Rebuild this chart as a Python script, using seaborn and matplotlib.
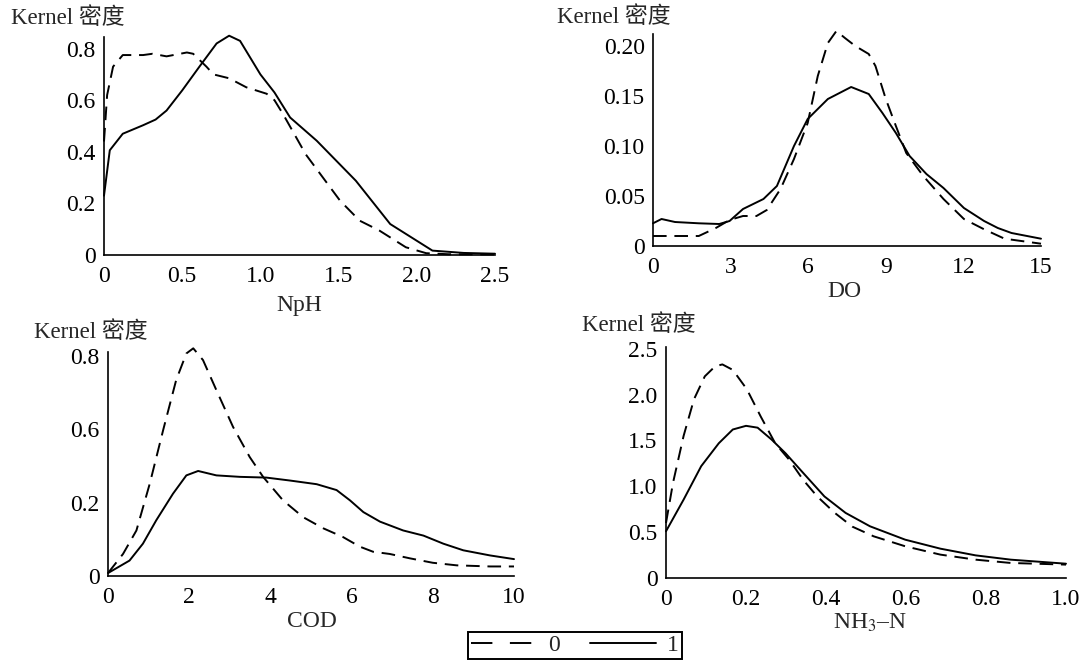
import numpy as np
import pandas as pd
import matplotlib
matplotlib.use("Agg")
import matplotlib.pyplot as plt
from matplotlib.lines import Line2D
import seaborn as sns

# ---------------- data ----------------
# Panel 1: NpH
nph_x0 = [0.0, 0.02, 0.058, 0.12, 0.25, 0.31, 0.40, 0.53, 0.57, 0.655, 0.70, 0.80, 0.91, 1.04, 1.09,
          1.145, 1.29, 1.51, 1.635, 1.76, 1.93, 2.06, 2.2, 2.5]
nph_y0 = [0.44, 0.62, 0.73, 0.775, 0.775, 0.78, 0.77, 0.785, 0.78, 0.73, 0.70, 0.685, 0.65, 0.625, 0.60,
          0.546, 0.39, 0.21, 0.133, 0.095, 0.03, 0.007, 0.003, 0.002]
nph_x1 = [0.0, 0.037, 0.12, 0.25, 0.33, 0.40, 0.50, 0.61, 0.72, 0.80, 0.87, 1.0, 1.09, 1.19, 1.36,
          1.61, 1.83, 2.10, 2.3, 2.5]
nph_y1 = [0.23, 0.406, 0.47, 0.503, 0.525, 0.56, 0.638, 0.73, 0.82, 0.85, 0.83, 0.70, 0.63, 0.533, 0.443,
          0.288, 0.12, 0.017, 0.008, 0.005]

# Panel 2: DO
do_x0 = [0, 1.77, 2.43, 2.96, 3.48, 4.0, 4.4, 4.93, 5.45, 5.98, 6.37, 6.76, 7.09, 7.42, 7.82, 8.34,
         8.6, 9.0, 9.39, 9.79, 10.45, 11.23, 12.02, 12.8, 13.59, 15]
do_y0 = [0.01, 0.01, 0.018, 0.026, 0.03, 0.03, 0.036, 0.057, 0.087, 0.123, 0.17, 0.203, 0.215, 0.208,
         0.2, 0.192, 0.18, 0.147, 0.12, 0.093, 0.07, 0.047, 0.027, 0.0167, 0.0073, 0.0023]
do_x1 = [0, 0.33, 0.85, 1.77, 2.56, 2.96, 3.48, 4.27, 4.79, 5.45, 5.98, 6.76, 7.66, 8.34, 8.87, 9.39,
         9.92, 10.57, 11.23, 12.02, 12.8, 13.33, 13.86, 15]
do_y1 = [0.0227, 0.027, 0.024, 0.0227, 0.022, 0.025, 0.037, 0.047, 0.06, 0.10, 0.127, 0.147, 0.159,
         0.152, 0.133, 0.113, 0.09, 0.072, 0.058, 0.038, 0.025, 0.018, 0.013, 0.0073]

# Panel 3: COD
cod_x0 = [0, 0.37, 0.70, 1.03, 1.36, 1.68, 1.93, 2.1, 2.34, 2.67, 3.08, 3.49, 3.82, 4.31, 4.81, 5.30,
          5.79, 6.2, 6.53, 6.94, 7.44, 8.0, 8.59, 9.41, 10]
cod_y0 = [0.004, 0.030, 0.062, 0.126, 0.199, 0.267, 0.303, 0.31, 0.294, 0.253, 0.203, 0.162, 0.135,
          0.103, 0.080, 0.065, 0.053, 0.04, 0.033, 0.030, 0.024, 0.018, 0.0145, 0.013, 0.013]
cod_x1 = [0, 0.53, 0.86, 1.19, 1.6, 1.93, 2.22, 2.67, 3.25, 3.90, 4.48, 5.14, 5.63, 5.96, 6.29, 6.70,
          7.27, 7.77, 8.26, 8.75, 9.41, 10]
cod_y1 = [0.004, 0.021, 0.044, 0.076, 0.112, 0.137, 0.143, 0.137, 0.135, 0.134, 0.130, 0.125, 0.117,
          0.103, 0.087, 0.074, 0.062, 0.055, 0.044, 0.035, 0.028, 0.023]

# Panel 4: NH3-N
nh_x0 = [0, 0.0176, 0.044, 0.070, 0.097, 0.123, 0.141, 0.167, 0.202, 0.237, 0.273, 0.308, 0.343,
         0.378, 0.422, 0.466, 0.519, 0.598, 0.686, 0.774, 0.862, 1.0]
nh_y0 = [0.60, 1.04, 1.55, 1.95, 2.20, 2.31, 2.33, 2.27, 2.06, 1.76, 1.47, 1.29, 1.07, 0.89, 0.71,
         0.56, 0.455, 0.346, 0.255, 0.20, 0.164, 0.146]
nh_x1 = [0, 0.044, 0.088, 0.132, 0.167, 0.20, 0.229, 0.264, 0.299, 0.343, 0.396, 0.449, 0.51, 0.598,
         0.686, 0.774, 0.862, 1.0]
nh_y1 = [0.51, 0.855, 1.22, 1.47, 1.62, 1.66, 1.64, 1.51, 1.36, 1.146, 0.89, 0.71, 0.564, 0.418,
         0.32, 0.247, 0.20, 0.156]

groups = ["0", "1"]
ylabel_text = "Kernel 密度"
xlabels = ["NpH", "DO", "COD", "NH$_3$–N"]

nph_xticks = [0, 0.5, 1.0, 1.5, 2.0, 2.5]
nph_xticklabels = ["0", "0.5", "1.0", "1.5", "2.0", "2.5"]
nph_yticks = [0, 0.2, 0.4, 0.6, 0.8]
nph_yticklabels = ["0", "0.2", "0.4", "0.6", "0.8"]

do_xticks = [0, 3, 6, 9, 12, 15]
do_xticklabels = ["0", "3", "6", "9", "12", "15"]
do_yticks = [0, 0.05, 0.10, 0.15, 0.20]
do_yticklabels = ["0", "0.05", "0.10", "0.15", "0.20"]

cod_xticks = [0, 2, 4, 6, 8, 10]
cod_xticklabels = ["0", "2", "4", "6", "8", "10"]
cod_yticks = [0, 0.1, 0.2, 0.3]
cod_yticklabels = ["0", "0.2", "0.6", "0.8"]

nh_xticks = [0, 0.2, 0.4, 0.6, 0.8, 1.0]
nh_xticklabels = ["0", "0.2", "0.4", "0.6", "0.8", "1.0"]
nh_yticks = [0, 0.5, 1.0, 1.5, 2.0, 2.5]
nh_yticklabels = ["0", "0.5", "1.0", "1.5", "2.0", "2.5"]


def make_df(x0, y0, x1, y1):
    return pd.concat([
        pd.DataFrame({"x": x0, "y": y0, "group": groups[0]}),
        pd.DataFrame({"x": x1, "y": y1, "group": groups[1]}),
    ], ignore_index=True)


# ---------------- style ----------------
sns.set_style("white")
plt.rcParams["font.family"] = ["Liberation Serif", "Noto Sans CJK SC"]
plt.rcParams["mathtext.fontset"] = "stix"

W, H = 1085, 661
fig = plt.figure(figsize=(W / 100, H / 100), dpi=100)


def px_axes(left, right, bottom, top):
    return fig.add_axes([left / W, 1 - bottom / H, (right - left) / W, (bottom - top) / H])


panels = [
    dict(box=(104, 495, 255, 37), df=make_df(nph_x0, nph_y0, nph_x1, nph_y1), xlim=(0, 2.5), ylim=(0, 0.845),
         xt=nph_xticks, xtl=nph_xticklabels, yt=nph_yticks, ytl=nph_yticklabels, xl=xlabels[0],
         xlpos=(299, 295), ylab=(11, 18)),
    dict(box=(653, 1041, 246, 34), df=make_df(do_x0, do_y0, do_x1, do_y1), xlim=(0, 15), ylim=(0, 0.212),
         xt=do_xticks, xtl=do_xticklabels, yt=do_yticks, ytl=do_yticklabels, xl=xlabels[1],
         xlpos=(844, 281), ylab=(557, 17)),
    dict(box=(108, 514, 576, 352), df=make_df(cod_x0, cod_y0, cod_x1, cod_y1), xlim=(0, 10), ylim=(0, 0.305),
         xt=cod_xticks, xtl=cod_xticklabels, yt=cod_yticks, ytl=cod_yticklabels, xl=xlabels[2],
         xlpos=(312, 611), ylab=(34, 332)),
    dict(box=(666, 1066, 578, 347), df=make_df(nh_x0, nh_y0, nh_x1, nh_y1), xlim=(0, 1.0), ylim=(0, 2.52),
         xt=nh_xticks, xtl=nh_xticklabels, yt=nh_yticks, ytl=nh_yticklabels, xl=xlabels[3],
         xlpos=(870, 612), ylab=(582, 325)),
]

dash_map = {"0": (7, 4), "1": ""}

for p in panels:
    ax = px_axes(*p["box"])
    sns.lineplot(data=p["df"], x="x", y="y", style="group", dashes=dash_map, color="black",
                 linewidth=1.4, legend=False, ax=ax, sort=False, estimator=None)
    for ln in ax.lines:
        ln.set_clip_on(False)
    ax.set_xlim(*p["xlim"])
    ax.set_ylim(*p["ylim"])
    ax.set_xticks(p["xt"])
    ax.set_xticklabels(p["xtl"])
    ax.set_yticks(p["yt"])
    ax.set_yticklabels(p["ytl"])
    ax.tick_params(axis="both", direction="out", length=3, width=1, colors="black", labelsize=17)
    ax.tick_params(axis="x", pad=5)
    ax.tick_params(axis="y", pad=3)
    for s in ["top", "right"]:
        ax.spines[s].set_visible(False)
    for s in ["left", "bottom"]:
        ax.spines[s].set_color("black")
        ax.spines[s].set_linewidth(1.2)
    ax.set_xlabel(p["xl"], fontsize=17)
    bl, br, bb, bt = p["box"]
    ax.xaxis.set_label_coords((p["xlpos"][0] - bl) / (br - bl), -(p["xlpos"][1] - bb) / (bb - bt))
    ax.set_ylabel("")
    ax.patch.set_alpha(0)
    fig.text(p["ylab"][0] / W, 1 - p["ylab"][1] / H, ylabel_text, fontsize=16.5, ha="left", va="center")

handles = [Line2D([0], [0], color="black", lw=1.4, dashes=(11, 9)),
           Line2D([0], [0], color="black", lw=1.4)]
leg = fig.legend(handles, groups, loc="center", bbox_to_anchor=(575 / W, 1 - 645.5 / H), ncol=2,
                 frameon=True, fancybox=False, framealpha=1, edgecolor="black", fontsize=17,
                 handlelength=2.8, handletextpad=0.45, columnspacing=1.3, borderpad=0.12,
                 borderaxespad=0)
leg.get_frame().set_linewidth(1.4)

fig.savefig("out.png", dpi=100, facecolor="white")
